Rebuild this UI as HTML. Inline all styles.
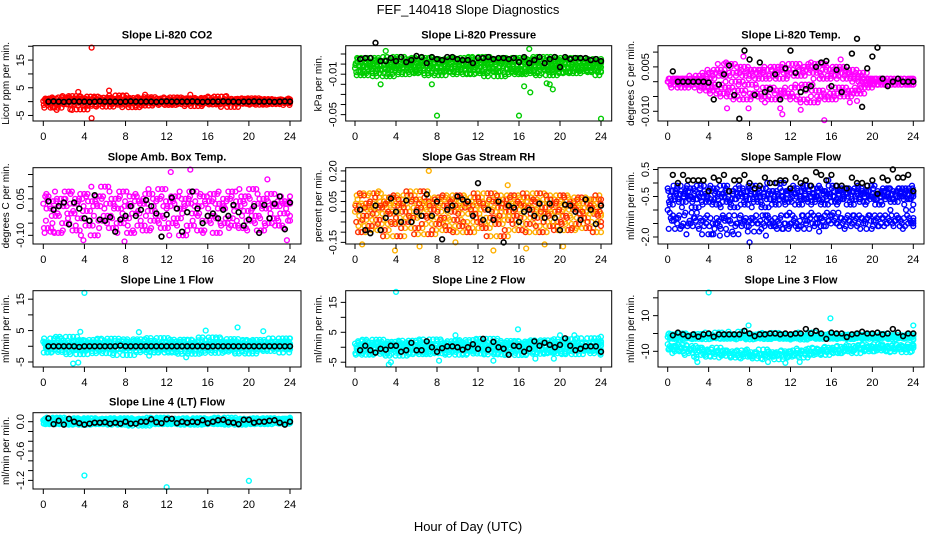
<!DOCTYPE html>
<html><head><meta charset="utf-8"><style>
html,body{margin:0;padding:0;background:#fff;}
svg{display:block;font-family:"Liberation Sans",Arial,sans-serif;}
</style></head><body>
<svg id="c" width="936" height="540" viewBox="0 0 936 540" xmlns="http://www.w3.org/2000/svg">
<text x="468" y="14" text-anchor="middle" font-size="13">FEF_140418  Slope Diagnostics</text>
<text x="468" y="531" text-anchor="middle" font-size="13">Hour of Day (UTC)</text>
</svg>
<script>
// ---------- data (values per minute; hours 0-24) ----------
const xTicks = [0,4,8,12,16,20,24];
const co2Vals = [0.2,-0.5,0.8,-1.2,0.5,1.1,-0.3,-2.2,0.9,-0.8,1.5,0.3,-1.0,0.6,2.0,-0.4,1.2,-2.8,0.4,0.9,-1.5,1.8,0.1,-0.9,0.7,-0.2,1.4,-1.8,0.5,1.0,-0.6,0.3,2.2,-1.1,0.8,-0.3,1.3,-2.0,0.6,-0.7,1.0,0.2,-1.4,1.6,-0.5,0.9,-0.2,0.4,1.1,-0.8,0.3,-1.2,0.7,1.5,-0.4,0.2,-0.9,0.8,1.2,-0.3,0.5,-1.6,0.9,0.1,-0.5,1.3,-0.2,0.6,-1.0,0.4,1.8,-0.7,0.3,-0.4,0.9,-1.9,0.5,0.2,-0.6,1.0,0.3,-0.8,0.7,1.2,-0.3,0.4,-1.1,0.6,0.9,-0.5,0.2,-0.9,0.7,0.3,-0.4,0.1];
const co2Black = [0,0.1,0,-0.1,0,0.1,0,0,-0.1,0,0.1,0,0,0,-0.1,0,0.1,0,0,0,0,-0.1,0,0.1,0,0,0,0,0.1,0,-0.1,0,0,0,0.1,0,0,-0.1,0,0,0.1,0,0,0,-0.1,0,0.1,0];
const co2OutH = [4.7,4.7,6.4,3.4,9.9,1.3,2.8,14.3,17.8,0.9,7.8];
const co2OutV = [19.5,-6,4,3.5,2.5,-3,-3,2.5,2,-2,2];

const presVals = [-0.004,0.002,-0.008,-0.001,0.005,-0.011,-0.003,0.001,-0.007,0.006,-0.002,-0.009,0.003,-0.005,0.000,-0.012,0.004,-0.006,-0.001,0.007,-0.004,-0.010,0.002,-0.003,0.005,-0.008,-0.001,0.003,-0.006,-0.002,0.006,-0.009,0.001,-0.004,0.004,-0.011,-0.002,0.002,-0.007,0.005,-0.003,-0.008,0.003,0.000,-0.005,0.006,-0.010,-0.002,0.004,-0.006,0.001,-0.009,0.007,-0.003,-0.001,0.004,-0.007,0.002,-0.012,0.005,-0.004,0.000,-0.008,0.003,-0.002,0.006,-0.010,-0.005,0.002,-0.007,0.004,-0.001,-0.009,0.005,-0.003,0.001,-0.006,0.007,-0.011,-0.002,0.003,-0.005,0.004,-0.008,0.000,-0.003,0.006,-0.009,0.002,-0.004,0.005,-0.007,-0.001,0.003,-0.006,0.001];
const presBlack = [0.005,0.006,0.006,0.021,0.003,0.003,0.006,0.003,0.007,0.002,0.004,0.008,0.007,0.001,0.007,0.005,0.004,0.007,0.007,0.005,0.004,0.004,0.001,0.006,0.006,0.007,0.005,0.006,0.006,0.005,0.006,0.002,0.007,0.001,0.004,0.007,0.001,0.005,0.007,-0.003,0.007,0.005,0.006,0.006,0.006,0.004,0.005,0.003];
const presOutH = [3,8,16,24,17,17.1,16.5,19,19.3,7.5,2.5,18.7];
const presOutV = [0.013,-0.051,-0.051,-0.054,0.015,-0.028,-0.022,-0.020,-0.025,-0.020,-0.020,-0.019];

const tempVals = [0.000,-0.001,0.001,0.000,-0.001,0.001,0.000,0.001,-0.002,0.000,0.001,-0.001,0.000,0.001,-0.001,0.002,0.000,-0.002,0.001,-0.003,0.003,-0.001,0.004,-0.004,0.002,-0.002,0.006,-0.005,0.003,0.000,-0.003,0.005,-0.006,0.002,-0.001,0.004,-0.004,0.003,0.001,-0.005,0.004,-0.002,0.002,-0.006,0.005,-0.003,0.001,0.004,-0.004,0.003,-0.005,0.006,-0.002,0.002,-0.006,0.004,-0.001,0.005,-0.007,0.003,-0.003,0.006,-0.005,0.001,0.004,-0.006,0.002,-0.004,0.005,-0.002,0.003,-0.005,0.001,0.004,-0.003,0.002,-0.004,0.003,0.000,-0.002,0.001,-0.001,0.001,0.000,-0.001,0.001,0.000,0.000,-0.001,0.001,0.000,0.000,-0.001,0.001,0.000,0.000];
const tempBlack = [0.0035,0.000,0.000,0.000,0.000,0.000,0.000,-0.0003,-0.006,-0.001,0.0025,0.0055,-0.0045,-0.0125,0.0105,0.0075,-0.0045,0.0065,-0.0035,-0.0025,0.0025,-0.006,0.0045,0.0105,0.003,-0.0035,-0.0025,-0.0015,0.005,0.0065,0.007,-0.0015,0.004,-0.0035,0.005,0.0095,0.0145,-0.0085,0.0045,0.0085,0.0115,0.001,-0.0015,0.000,0.001,0.000,0.000,0.000];
const tempOutH = [5.8,7.9,11,11.2,15.3,13,9.5,5.7,14,7.4,17.8,18.5,16.9];
const tempOutV = [-0.009,-0.009,-0.009,-0.011,-0.013,-0.0095,-0.007,0.0065,0.0065,0.0085,-0.007,-0.0065,0.0075];

const boxVals = [0.03,-0.04,0.06,-0.07,0.01,0.04,-0.02,-0.09,0.05,0.02,-0.05,0.08,-0.01,0.03,-0.08,0.05,-0.03,0.07,0.00,-0.06,0.04,-0.10,0.02,0.06,-0.04,0.10,-0.02,0.03,-0.07,0.05,0.01,-0.05,0.08,-0.03,0.02,-0.09,0.06,-0.01,0.04,-0.06,0.03,-0.08,0.07,0.00,-0.04,0.05,-0.02,0.09,-0.07,0.02,0.04,-0.05,0.06,-0.03,0.01,-0.10,0.05,0.03,-0.06,0.08,-0.01,0.02,-0.08,0.06,-0.04,0.04,-0.02,0.07,-0.09,0.03,0.01,-0.05,0.05,-0.03,0.08,-0.06,0.02,0.04,-0.07,0.06,0.00,-0.04,0.09,-0.02,0.03,-0.08,0.05,0.01,-0.05,0.07,-0.03,0.02,-0.06,0.04,-0.01,0.03];
const boxBlack = [0.04,0.005,0.02,0.035,-0.055,0.035,0.01,-0.03,-0.04,0.065,-0.035,-0.04,-0.025,-0.085,-0.035,-0.02,0.02,-0.02,0.005,0.045,0.02,-0.01,-0.105,-0.015,0.055,0.01,-0.085,-0.005,0.08,0.01,-0.05,-0.02,-0.01,-0.03,0.005,-0.02,0.025,-0.005,-0.06,-0.035,0.02,-0.09,0.025,-0.03,0.03,0.06,-0.075,0.035];
const boxOutH = [0.3,12.4,14.3,21.8,23.7,3.9,7.9,1.0,0.7];
const boxOutV = [0.07,0.16,0.17,0.13,-0.12,-0.12,-0.125,-0.085,-0.085];

const rhVals = [0.00,0.06,-0.05,0.03,-0.10,0.08,-0.02,0.04,-0.07,0.01,0.09,-0.04,0.02,-0.09,0.05,-0.01,0.07,-0.06,0.03,-0.12,0.04,0.00,-0.05,0.08,-0.03,0.06,-0.08,0.02,0.10,-0.02,0.05,-0.11,0.01,0.04,-0.06,0.07,-0.03,0.03,-0.09,0.06,0.00,-0.04,0.08,-0.07,0.02,0.05,-0.10,0.03,-0.01,0.07,-0.05,0.04,-0.08,0.01,0.09,-0.03,0.05,-0.06,0.02,-0.12,0.06,0.00,-0.04,0.08,-0.02,0.04,-0.09,0.03,0.07,-0.06,0.01,0.05,-0.03,0.09,-0.10,0.02,-0.01,0.06,-0.07,0.04,0.00,-0.05,0.08,-0.02,0.03,-0.09,0.05,0.01,-0.06,0.07,-0.03,0.04,-0.08,0.02,0.06,-0.01];
const rhBlack = [0.01,-0.09,-0.105,0.03,-0.09,-0.03,0.065,0.0,-0.05,0.055,-0.05,0.00,-0.02,0.085,-0.02,0.05,-0.135,0.01,0.03,0.075,0.06,0.05,-0.02,0.14,-0.04,0.01,-0.04,0.05,-0.15,0.03,0.02,-0.05,0.00,0.01,-0.02,0.04,-0.03,0.04,-0.03,-0.09,0.035,0.03,0.00,-0.04,0.06,0.01,-0.06,0.03];
const rhOutH = [7.2,0.7,3.9,6.3,14.9,16.7,20.3,13.5,2.3,9.8,18.5];
const rhOutV = [0.20,-0.16,-0.19,-0.17,0.13,-0.18,-0.17,-0.19,0.10,-0.15,-0.16];

const flowUpper = [-0.2,-0.5,-0.8,-0.3,-0.6,-0.1,-0.4,-0.7,-0.3,-0.5,-0.2,-0.6,-0.9,-0.4,-0.1,-0.5,-0.7,-0.3,-0.6,-0.2,-0.8,-0.4,-0.5,-0.1,-0.7,-0.3,-0.6,-0.9,-0.4,-0.2,-0.5,-0.8,-0.3,-0.6,-0.1,-0.4,-0.7,-0.5,-0.2,-0.9,-0.4,-0.6,-0.3,-0.8,-0.5,0.0,-0.6,-0.3,-0.7,-0.4,-0.2,-0.5,-0.8,-0.3,-0.6,-0.1,-0.4,-0.7,-0.5,-0.2,-0.6,-0.3,-0.8,-0.4,-0.5,-0.1,-0.7,-0.3,-0.6,-0.4,-0.2,-0.5,-0.8,-0.3,-0.6,-0.2,-0.4,-0.7,-0.3,-0.5,-0.1,-0.6,-0.4,-0.8,-0.3,-0.5,-0.2,-0.6,-0.4,-0.7,-0.3,-0.5,-0.2,-0.4,-0.6,-0.3];
const flowLower = [-1.0,-1.4,-1.3,-1.7,-1.2,-1.5,-1.6,-1.1,-1.4,-1.3,-1.6,-1.9,-1.5,-1.3,-1.7,-1.4,-1.2,-1.9,-1.5,-1.6,-1.3,-1.4,-1.8,-1.5,-1.2,-1.4,-1.6,-1.3,-1.5,-1.7,-1.2,-1.5,-1.6,-1.4,-1.7,-1.2,-1.5,-1.3,-1.6,-1.2,-1.4,-1.1,-1.5,-1.3,-1.6,-1.4,-1.2,-1.5,-1.3,-1.7,-1.4,-1.2,-1.6,-1.3,-1.5,-1.2,-1.4,-1.6,-1.3,-1.5];
const flowBlack = [0.3,0.0,0.3,0.1,0.1,0.1,0.1,-0.3,0.2,0.1,0.3,-0.3,0.1,0.1,0.3,0.0,-0.2,-0.1,0.2,0.0,0.0,0.1,0.1,-0.2,0.2,0.0,0.1,-0.1,0.4,0.3,0.1,0.3,-0.1,-0.1,-0.2,0.2,0.0,0.0,-0.1,0.1,-0.4,0.2,0.1,0.5,0.2,0.2,0.3,-0.3];
const flowOutH = [8.0,4.3,5.1,9.6,14.8,11.9,15.7];
const flowOutV = [-2.2,-1.9,-1.95,-1.95,-1.8,-1.1,0.1];

const l1Vals = [1.5,-0.5,0.8,-2.0,0.3,1.2,-1.0,2.5,-0.2,0.6,-1.8,1.0,-0.4,3.0,-1.2,0.5,1.8,-2.5,0.2,-0.8,1.3,-0.3,2.0,-1.5,0.7,-0.6,1.1,-2.2,0.4,2.4,-1.0,0.1,1.6,-0.7,0.9,-2.8,0.3,1.4,-0.5,2.2,-1.3,0.6,-0.2,1.7,-1.9,0.8,0.2,-1.1,2.6,-0.4,1.0,-2.0,0.5,-0.9,1.5,0.0,-1.6,2.1,-0.3,0.7,-2.4,1.2,0.4,-0.8,1.9,-1.4,0.6,-0.1,2.8,-2.1,0.9,-0.6,1.3,-1.2,0.3,2.3,-0.7,1.1,-1.7,0.5,0.0,1.6,-2.3,0.8,-0.5,2.0,-1.0,0.4,1.2,-1.5,0.7,-0.2,1.4,-0.9,0.6,2.5];
const l1Black = [0,0,0,0,0,0,-0.2,0,0,0,0,0,0,0,0.2,0,0,0,0,0,0,0,0,0,0,0,0,0,0,0,0,-0.1,0,0,0,0,0,0,0,0,0,0,0,0,0,0,0,0];
const l1OutH = [4.0,2.9,3.4,18.9,15.8,3.6,9.3,13.9,10.3,21.4];
const l1OutV = [17,-5.5,-5.2,6,5,4.6,4.5,-3.5,-3,4.8];

const l2Vals = [1.2,-1.0,0.5,-2.0,2.0,-0.5,0.8,-2.5,1.5,0.0,-1.5,2.5,-0.8,0.3,-2.2,1.0,-0.3,1.8,-1.2,0.6,-2.8,1.3,-0.6,0.9,-1.8,2.2,0.1,-1.0,1.6,-2.3,0.4,0.8,-1.4,2.6,-0.2,-2.0,1.1,-0.7,0.5,-1.6,2.0,-0.4,1.4,-2.5,0.2,0.9,-1.1,2.4,-0.9,0.6,-2.1,1.7,-0.3,0.3,-1.5,2.8,-0.6,1.0,-2.4,0.7,-0.1,1.5,-1.9,2.1,-0.8,0.4,-2.6,1.2,0.0,-1.3,1.9,-0.5,0.8,-2.2,1.4,-0.2,2.3,-1.7,0.6,-0.9,1.8,-2.0,0.2,1.1,-1.4,2.7,-0.6,0.5,-2.3,1.6,0.0,-1.0,1.3,-0.4,3.0,-1.2];
const l2Black = [-1.0,0.5,-1.0,-1.8,-0.5,-0.8,0.5,0.5,-1.5,-1.0,1.5,-1.0,-1.0,2.0,0.0,-1.5,-0.3,0.3,0.3,0.0,-0.8,0.0,1.0,-0.5,2.8,-0.8,1.8,0.0,-0.5,-2.5,0.5,0.3,-1.5,-0.5,2.0,0.5,1.5,0.8,0.0,0.8,3.0,0.5,-1.0,-0.5,0.3,0.3,0.3,-1.5];
const l2OutH = [4.0,15.9,3.5,3.3,8.2,13.5,9.8,19.4,20.0,24.0,21.4,17.6];
const l2OutV = [18.5,6,-5,-5.8,-4.5,-4.5,4,-3.8,4,3.5,4,-3.8];

const l3Upper = [-2,-1,-3,-0.5,-2.5,-1.5,-3.5,0,-2,-1,-2.8,-1.2,-3,-0.3,-2.2,-1.8,-3.2,-0.8,-2,-1.5,-2.7,0.5,-1.8,-3,-1,-2.4,-0.5,-2.9,-1.4,-2,1,-2.6,-1.1,-3.3,-0.6,-2.2,-1.6,-2.8,-0.2,-1.9,-3.1,-1.3,-2.4,0.3,-2.1,-1.7,-3,-0.9,-2.5,-1.2,-2.8,-0.4,-2.2,-1.6,-3.4,-1,-2,0.5,-2.6,-1.4,-3,-0.7,-2.3,-1.8,-2.9,-0.3,-2.1,-1.5,-2.7,-1.1,-2.4,-0.6,-3.1,-1.9,-2.2,-0.8,-2.6,-1.3,-3,-0.5,-2,-1.7,-2.8,-1,-2.3,-0.2,-2.5,-1.4,-3.2,-0.9,-2.1,-1.6,-2.7,-1.2,-2.4,-1.8];
const l3Lower = [-6,-8,-7,-9,-7.5,-10,-6.5,-8.5,-11,-7,-9.5,-8,-12,-10,-9,-13,-10.5,-8,-11.5,-9.5,-12.5,-11,-10,-13.5,-12,-9.5,-11,-13,-10.5,-12.5,-14,-11.5,-9,-12,-13,-10.5,-11.5,-14.5,-12,-10,-13,-11,-12.5,-9.5,-11,-13.5,-10,-12,-8.5,-11.5,-10,-9,-12,-8,-10.5,-9,-11,-7.5,-10,-8.5,-9.5,-7,-11,-8,-6.5,-9,-10,-7.5,-8.5,-6,-9.5,-8,-7,-10,-8.5,-6.5,-9,-7.5,-10.5,-8];
const l3Black = [-1,0.5,-0.5,-1.5,-0.5,-1.8,-0.5,0,-1.8,-0.5,-0.5,-0.5,-0.5,-0.5,1.5,0,-1.5,-0.5,-0.5,0,0,-0.5,0,-0.5,0,0,2.5,0,1.5,0,-3,0.5,0,0,-2,-0.5,0,1,0,0,0.5,-0.5,0,2.5,0.5,-1.5,0,0];
const l3OutH = [4.0,15.9,2.8,2.9,11.5,9.8,12.9,24.0,7.9];
const l3OutV = [23,8.5,-14,-16,-16.5,-16,-16,4.5,4.5];

const l4Vals = [0.03,-0.02,0.05,-0.04,0.01,0.06,-0.03,0.02,0.08,-0.05,0.00,0.04,-0.02,0.06,-0.04,0.03,-0.01,0.05,-0.06,0.02,0.07,-0.03,0.01,-0.05,0.04,0.00,-0.02,0.06,-0.04,0.03,0.05,-0.03,0.01,-0.06,0.07,-0.01,0.03,-0.04,0.02,0.05,-0.02,-0.08,0.04,0.00,-0.03,0.06,-0.05,0.02,0.08,-0.01,0.03,-0.04,0.05,-0.02,0.01,0.06,-0.05,0.03,-0.03,0.04,0.00,-0.06,0.07,-0.02,0.02,-0.04,0.05,0.01,-0.03,0.06,-0.05,0.03,0.00,-0.02,0.08,-0.04,0.02,0.04,-0.06,0.01,0.05,-0.03,0.03,-0.01,0.06,-0.04,0.02,0.00,-0.05,0.07,-0.02,0.03,0.05,-0.03,0.01,0.06];
const l4Black = [0.07,-0.05,0.02,-0.06,0.06,0.0,-0.03,-0.06,-0.04,-0.02,-0.02,-0.01,-0.04,-0.02,-0.04,0.0,-0.04,-0.04,0.0,0.0,0.05,-0.01,-0.03,0.05,0.06,-0.03,0.0,-0.02,0.0,-0.01,0.03,-0.03,0.0,0.03,0.04,-0.01,-0.02,-0.05,0.04,0.04,-0.02,0.0,0.0,0.02,0.03,-0.02,-0.06,0.0];
const l4OutH = [4.0,12.0,20.0];
const l4OutV = [-1.1,-1.34,-1.21];

// small index offsets: each recorded value is also drawn near neighbouring sample times (dense sampling)
const passShift = [0,3,7,2,5,9];

// ---------- layout ----------
const cols = [{l:33,r:301,x0:43.3,x24:290},{l:345.7,r:611.7,x0:355,x24:601},{l:658,r:924,x0:667.7,x24:913.3}];
const rows = [{t:45.7,b:121},{t:167.7,b:244},{t:290.7,b:367},{t:412.7,b:489}];
const panels = [
 {id:"co2",title:"Slope Li-820 CO2",yl:"Licor ppm per min.",c:0,r:0,ymin:-7.0,ymax:20.2,ticks:[-5,0,5,10,15,20],labs:[-5,5,15],col:["#ff0000"],passes:5,series:[co2Vals],black:co2Black,oh:co2OutH,ov:co2OutV},
 {id:"pressure",title:"Slope Li-820 Pressure",yl:"kPa per min.",c:1,r:0,ymin:-0.0563,ymax:0.0182,ticks:[0.01,0,-0.01,-0.02,-0.03,-0.04,-0.05],labs:[-0.01,-0.05],col:["#00cc00"],passes:6,series:[presVals],black:presBlack,oh:presOutH,ov:presOutV},
 {id:"temp",title:"Slope Li-820 Temp.",yl:"degrees C per min.",c:2,r:0,ymin:-0.01328,ymax:0.01216,ticks:[0.01,0.005,0,-0.005,-0.01],labs:[0.005,-0.01],fmt:3,col:["#ff00ff"],passes:5,series:[tempVals],black:tempBlack,oh:tempOutH,ov:tempOutV},
 {id:"box-temp",title:"Slope Amb. Box Temp.",yl:"degrees C per min.",c:0,r:1,ymin:-0.1356,ymax:0.178,ticks:[0.15,0.1,0.05,0,-0.05,-0.1],labs:[0.05,-0.1],fmt:2,col:["#ff00ff"],passes:4,series:[boxVals],black:boxBlack,oh:boxOutH,ov:boxOutV},
 {id:"rh",title:"Slope Gas Stream RH",yl:"percent per min.",c:1,r:1,ymin:-0.158,ymax:0.2157,ticks:[0.2,0.15,0.1,0.05,0,-0.05,-0.1,-0.15],labs:[0.2,0.05,-0.15],fmt:2,col:["#ffb000","#ff3000"],passes:6,series:[rhVals],black:rhBlack,oh:rhOutH,ov:rhOutV},
 {id:"sample-flow",title:"Slope Sample Flow",yl:"ml/min per min.",c:2,r:1,ymin:-2.26,ymax:0.567,ticks:[0.5,0,-0.5,-1,-1.5,-2],labs:[0.5,-0.5,-2],fmt:1,col:["#0000ff"],passes:4,series:[flowUpper,flowLower],black:flowBlack,oh:flowOutH,ov:flowOutV},
 {id:"line1",title:"Slope Line 1 Flow",yl:"ml/min per min.",c:0,r:2,ymin:-6.6,ymax:17.7,ticks:[-5,0,5,10,15],labs:[-5,5,15],col:["#00ffff"],passes:6,series:[l1Vals],black:l1Black,oh:l1OutH,ov:l1OutV},
 {id:"line2",title:"Slope Line 2 Flow",yl:"ml/min per min.",c:1,r:2,ymin:-6.6,ymax:18.9,ticks:[-5,0,5,10,15],labs:[-5,5,15],col:["#00ffff"],passes:6,series:[l2Vals],black:l2Black,oh:l2OutH,ov:l2OutV},
 {id:"line3",title:"Slope Line 3 Flow",yl:"ml/min per min.",c:2,r:2,ymin:-18.8,ymax:24.0,ticks:[-10,0,10,20],labs:[10,-10],col:["#00ffff"],passes:4,series:[l3Upper,l3Lower],black:l3Black,oh:l3OutH,ov:l3OutV},
 {id:"line4",title:"Slope Line 4 (LT) Flow",yl:"ml/min per min.",c:0,r:3,ymin:-1.376,ymax:0.184,ticks:[0,-0.2,-0.4,-0.6,-0.8,-1,-1.2],labs:[0,-0.6,-1.2],fmt:1,col:["#00ffff"],passes:6,series:[l4Vals],black:l4Black,oh:l4OutH,ov:l4OutV}
];

const svg = document.getElementById('c');
const NS = "http://www.w3.org/2000/svg";
function mk(tag, attrs, parent){const e=document.createElementNS(NS,tag);for(const k in attrs)e.setAttribute(k,attrs[k]);(parent||svg).appendChild(e);return e;}
function fmtNum(v,d){if(d===undefined)return String(v);return v.toFixed(d);}

panels.forEach(p=>{
  const C=cols[p.c], R=rows[p.r];
  const xs=h=>C.x0+(C.x24-C.x0)*h/24;
  const ys=v=>R.b-(R.b-R.t)*(v-p.ymin)/(p.ymax-p.ymin);
  const g=mk('g',{});
  
  
  const tt=mk('text',{x:(C.l+C.r)/2,y:R.t-7,'text-anchor':'middle','font-size':'11','font-weight':'bold'},g);
  tt.textContent=p.title;
  
  
  const cx=C.l-24, cy=(R.t+R.b)/2;
  const yl=mk('text',{x:cx,y:cy,'text-anchor':'middle','font-size':'10',transform:`rotate(-90 ${cx} ${cy})`},g);
  yl.textContent=p.yl;
  
  
  const pg=mk('g',{fill:'none'},g);
  
  
  p.series.forEach(arr=>{
    const n=arr.length;
    for(let k=0;k<p.passes;k++){
      const col=p.col[k%p.col.length];
      arr.forEach((_,i)=>{
        const v=arr[(i+passShift[k])%n];
        const h=Math.min(24,24*(i+k/p.passes)/(n-1));
        const pt=mk('circle',{cx:xs(h),cy:ys(v),r:2.4,stroke:col,'stroke-width':1.4,fill:'none'},pg);
        
        
      });
    }
  });
  p.oh.forEach((h,i)=>{
    const pt=mk('circle',{cx:xs(h),cy:ys(p.ov[i]),r:2.4,stroke:p.col[0],'stroke-width':1.4,fill:'none'},pg);
    
    
  });
  p.black.forEach((v,i)=>{
    const h=0.5+23.5*i/(p.black.length-1);
    const pt=mk('circle',{cx:xs(h),cy:ys(v),r:2.4,stroke:'#000','stroke-width':1.6,fill:'none'},pg);
    
    
  });
  const fr=mk('rect',{x:C.l,y:R.t,width:C.r-C.l,height:R.b-R.t,fill:'none',stroke:'#000','stroke-width':1},g);
  
  
  const xa=mk('g',{stroke:'#000','stroke-width':1},g);
  
  
  mk('line',{x1:xs(0),x2:xs(24),y1:R.b,y2:R.b},xa);
  xTicks.forEach(t=>{
    mk('line',{x1:xs(t),x2:xs(t),y1:R.b,y2:R.b+5},xa);
    const tl=mk('text',{x:xs(t),y:R.b+19,'text-anchor':'middle','font-size':'11',stroke:'none',fill:'#000'},g);
    tl.textContent=t;
    
    
  });
  const ya=mk('g',{stroke:'#000','stroke-width':1},g);
  
  
  p.ticks.forEach(t=>{
    mk('line',{x1:C.l-5,x2:C.l,y1:ys(t),y2:ys(t)},ya);
  });
  p.labs.forEach(t=>{
    const lx=C.l-9, ly=ys(t);
    const tl=mk('text',{x:lx,y:ly,'text-anchor':'middle','font-size':'11',transform:`rotate(-90 ${lx} ${ly})`},g);
    tl.textContent=fmtNum(t,p.fmt);
    
    
  });
});
</script>
</body></html>
